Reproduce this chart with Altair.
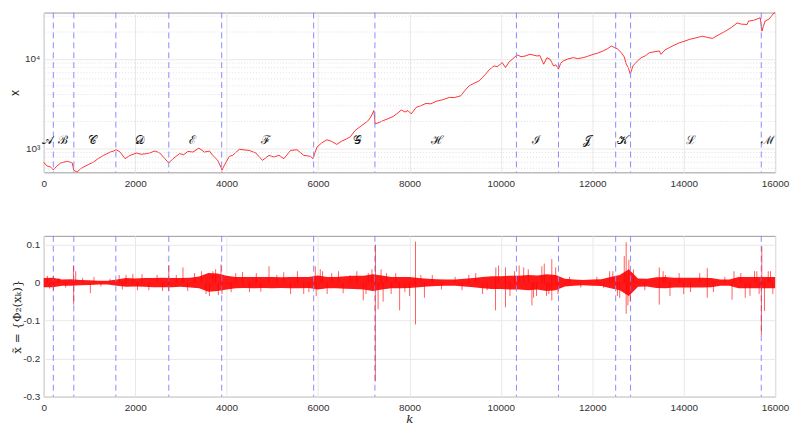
import altair as alt
import pandas as pd

# ---------------- data ----------------
price_k = [0, 65, 150, 210, 282, 369, 515, 586, 623, 658, 732, 803, 875, 977, 1092, 1194, 1309, 1455, 1520, 1585,
           1672, 1780, 1889, 2034, 2128, 2251, 2345, 2432, 2540, 2649, 2736, 2829, 2974, 3061, 3155, 3263, 3393, 3517,
           3626, 3697, 3806, 3880, 3901, 3951, 4060, 4132, 4277, 4494, 4640, 4783, 4929, 5037, 5146, 5254, 5400, 5543,
           5688, 5834, 5890, 5977, 6079, 6194, 6296, 6411, 6513, 6628, 6709, 6811, 6954, 7100, 7165, 7223, 7251, 7338,
           7425, 7534, 7642, 7751, 7822, 7903, 7968, 8040, 8148, 8250, 8365, 8467, 8582, 8728, 8873, 8988, 9125, 9206,
           9307, 9401, 9525, 9596, 9668, 9748, 9850, 9922, 10030, 10102, 10182, 10248, 10356, 10443, 10537, 10638,
           10790, 10855, 10936, 11007, 11079, 11152, 11202, 11261, 11311, 11369, 11463, 11587, 11680, 11804, 11898,
           12021, 12115, 12238, 12332, 12419, 12490, 12549, 12636, 12701, 12744, 12788, 12831, 12890, 12961, 13070,
           13157, 13250, 13352, 13467, 13504, 13591, 13684, 13786, 13902, 14004, 14119, 14264, 14410, 14503, 14627,
           14763, 14915, 15045, 15169, 15263, 15386, 15421, 15523, 15675, 15712, 15740, 15784, 15871, 15964, 16000]
price_v = [700, 640, 620, 575, 630, 687, 717, 700, 687, 570, 545, 590, 620, 660, 705, 770, 836, 910, 930, 966,
           910, 768, 836, 888, 860, 873, 900, 935, 888, 768, 687, 768, 873, 850, 926, 910, 1008, 910,
           935, 836, 736, 610, 570, 647, 815, 836, 975, 950, 888, 736, 836, 800, 836, 768, 950, 966,
           836, 815, 768, 1034, 1150, 1249, 1200, 1108, 1200, 1281, 1350, 1585, 1800, 2046, 2300, 2646, 1881, 1950,
           2046, 2150, 2270, 2500, 2689, 2550, 2646, 2430, 2878, 3000, 3186, 3150, 3356, 3500, 3716, 3700, 3877, 4400,
           5012, 5300, 5690, 6200, 6768, 7600, 8364, 8200, 9097, 8022, 9300, 9897, 11112, 10600, 10797, 11300,
           10800, 10900, 8740, 10300, 9900, 8360, 8600, 7690, 9000, 9500, 10000, 10340, 10100, 10340, 10700,
           11270, 11600, 12290, 13000, 13940, 13370, 13000, 11770, 10500, 8740, 8000, 6770, 8360, 9200, 10340,
           10800, 11770, 12000, 12290, 11270, 12600, 13370, 14200, 15150, 15700, 16500, 17200, 17970, 17500, 16940,
           18600, 20460, 22500, 25260, 24500, 24280, 26550, 27000, 28840, 20460, 23000, 26550, 28000, 32200, 33000]

event_k = [210, 658, 1578, 2736, 3893, 5905, 7245, 10341, 11261, 12512, 12838, 15697]

region_names = ["𝒜", "ℬ", "𝒞", "𝒟", "ℰ", "ℱ", "𝒢", "ℋ", "ℐ", "𝒥", "𝒦", "ℒ", "ℳ"]
region_k = [87, 412, 1060, 2106, 3250, 4857, 6861, 8604, 10776, 11876, 12658, 14155, 15834]
region_y = [1250] * 13

band_k = list(range(0, 16001, 200))
band_hi = [12, 13, 8, 9, 7, 6, 5, 5, 8, 12, 11, 12, 12, 13, 12, 12, 13, 16, 25, 24, 18, 15, 15, 15, 15, 15, 14,
           15, 15, 15, 19, 15, 15, 17, 18, 18, 22, 19, 15, 15, 15, 12, 10, 9, 8, 8, 10, 12, 15, 17, 17, 18, 18,
           20, 19, 22, 20, 10, 8, 7, 8, 9, 15, 20, 35, 11, 10, 14, 15, 13, 13, 13, 13, 12, 8, 8, 15, 15, 15, 15, 15]
band_lo = [-12, -12, -8, -8, -7, -6, -5, -5, -8, -11, -10, -11, -12, -12, -12, -11, -13, -15, -24, -22, -18, -15,
           -14, -15, -14, -15, -14, -15, -15, -14, -18, -15, -15, -16, -17, -18, -22, -18, -15, -15, -14, -12, -10,
           -9, -8, -8, -10, -12, -15, -17, -17, -18, -18, -20, -18, -22, -20, -10, -8, -7, -8, -9, -15, -20, -35,
           -11, -10, -14, -15, -13, -13, -13, -13, -12, -8, -8, -15, -15, -15, -15, -15]

spike_k = [210, 210, 650, 655, 700, 1020, 1100, 1800, 1950, 2050, 2736, 2736, 3046, 3300, 3625, 3700, 3878, 3900,
           4200, 4500, 4928, 5100, 5400, 5688, 5940, 5960, 6100, 6300, 6700, 6990, 7100, 7258, 7255, 7315, 7425,
           7500, 7786, 8003, 8133, 8133, 8328, 8500, 9300, 9700, 9884, 9890, 10101, 10101, 10300, 10500, 10680,
           10716, 10897, 11000, 11115, 11115, 11200, 12380, 12550, 12742, 12742, 12800, 12830, 13466, 13466, 13600,
           14000, 14516, 14516, 15058, 15100, 15347, 15600, 15709, 15700, 15767, 15900,
           80, 130, 330, 480, 850, 1250, 1450, 1650, 1720, 2150, 2300, 2480, 2600, 2900, 3150,
           3450, 3550, 3760, 3820, 4100, 4350, 4650, 4750, 5250, 5550, 5800,
           6050, 6200, 6450, 6550, 6850, 7050, 7180, 7380, 7600,
           7700, 7900, 8250, 8700, 9000, 9150,
           9450, 9600, 9950, 10200, 10400, 10600, 10780, 10950, 11050, 11250,
           11500, 11750, 12100, 12250, 12450, 12600, 12700, 12780, 12900,
           13150, 13550, 13700, 13900, 14150, 14350, 14650, 14900,
           15250, 15450, 15550, 15650, 15850, 15950]
spike_v = [0.017, -0.020, 0.045, -0.058, 0.030, -0.028, 0.015, 0.020, 0.023, -0.020, 0.046, -0.022, 0.040, 0.025,
           -0.035, 0.030, 0.048, -0.030, 0.025, -0.025, 0.043, 0.020, -0.030, -0.030, 0.043, -0.035, 0.030, 0.025,
           0.020, -0.047, 0.025, 0.100, -0.260, -0.070, -0.050, 0.025, -0.073, -0.035, 0.108, -0.110, -0.040, 0.020,
           0.020, -0.020, -0.073, 0.040, 0.040, -0.065, 0.030, 0.040, -0.060, -0.040, 0.043, -0.035, 0.062, -0.047,
           0.040, 0.030, -0.035, 0.106, -0.082, 0.060, -0.050, 0.040, -0.058, 0.020, -0.030, 0.038, -0.040, -0.045,
           0.030, -0.040, 0.030, 0.095, -0.138, -0.075, 0.030,
           0.018, -0.016, 0.012, -0.013, 0.012, -0.010, 0.010, 0.020, -0.018, 0.022, -0.020, 0.020, -0.022, 0.020,
           -0.022,
           0.030, -0.030, 0.035, -0.033, -0.025, 0.028, 0.025, -0.024, 0.027, 0.030, -0.025,
           0.035, -0.030, 0.030, -0.028, 0.030, -0.030, 0.035, 0.035, -0.030,
           0.025, -0.025, 0.020, -0.018, 0.015, -0.020,
           0.025, -0.030, 0.045, -0.035, 0.045, 0.035, -0.035, 0.050, -0.030, -0.030,
           0.015, -0.013, 0.015, -0.014, 0.030, -0.040, 0.070, -0.060, 0.035,
           -0.020, 0.030, -0.035, 0.025, -0.025, 0.025, -0.025, 0.015,
           0.025, -0.035, 0.030, -0.030, 0.030, -0.030]

x_ticks = [0, 2000, 4000, 6000, 8000, 10000, 12000, 14000, 16000]
top_major = [1000, 10000]
top_minor = [600, 700, 800, 900, 2000, 3000, 4000, 5000, 6000, 7000, 8000, 9000, 20000, 30000]
bottom_ticks = [-0.3, -0.2, -0.1, 0, 0.1]

# ---------------- frames ----------------
price = pd.DataFrame({"k": price_k, "v": price_v})
events = pd.DataFrame({"k": event_k})
regions = pd.DataFrame({"k": region_k, "v": region_y, "name": region_names})
minor = pd.DataFrame({"v": top_minor})
band = pd.DataFrame({"k": band_k, "hi": [h / 1000 for h in band_hi], "lo": [l / 1000 for l in band_lo]})
spikes = pd.DataFrame({"k": spike_k, "v": spike_v, "zero": [0.0] * len(spike_k)})

W = 737
FONT = "Liberation Sans"
xscale = alt.Scale(domain=[0, 16000], nice=False, zero=False)
yscale_top = alt.Scale(type="log", domain=[540, 33000], nice=False)
yscale_bot = alt.Scale(domain=[-0.3, 0.123], nice=False, zero=False)

x_axis_top = alt.Axis(values=x_ticks, format="d", title=None, grid=True, gridColor="#e8e8e8",
                      tickSize=0, labelPadding=6, domain=False, labelFlush=False)
x_axis_bot = alt.Axis(values=x_ticks, format="d", title="k", grid=True, gridColor="#e8e8e8",
                      tickSize=0, labelPadding=6, domain=False, labelFlush=False, titleFont="DejaVu Serif",
                      titleFontStyle="italic", titleFontWeight="normal", titleFontSize=12, titlePadding=1)
y_axis_top = alt.Axis(values=top_major, grid=True, gridColor="#e8e8e8", tickSize=0, labelPadding=4,
                      domain=False, title="x", titleFontWeight="normal", titleFontSize=12,
                      titlePadding=3, labelExpr="datum.value == 1000 ? '10³' : '10⁴'")
y_axis_bot = alt.Axis(values=bottom_ticks, grid=True, gridColor="#e8e8e8", tickSize=0, labelPadding=4,
                      domain=False, title="x̃ = {Φ₂(xₖ)}", titleFont="DejaVu Serif",
                      titleFontWeight="normal", titleFontSize=12, titlePadding=-1,
                      labelExpr="datum.value == 0 ? '0' : (datum.value < 0 ? '-' + format(-datum.value, '.1f') : format(datum.value, '.1f'))")

# ---------------- top panel ----------------
top_line = alt.Chart(price).mark_line(color="#ff0000", strokeWidth=0.8).encode(
    x=alt.X("k:Q", scale=xscale, axis=x_axis_top),
    y=alt.Y("v:Q", scale=yscale_top, axis=y_axis_top),
)
top_minor_grid = alt.Chart(minor).mark_rule(color="#d8d8d8", strokeDash=[1, 2], strokeWidth=0.8).encode(
    y=alt.Y("v:Q", scale=yscale_top, axis=y_axis_top)
)
top_lines = alt.Chart(events).mark_rule(color="#8a8aff", strokeDash=[6, 4], strokeWidth=1).encode(
    x=alt.X("k:Q", scale=xscale, axis=x_axis_top)
)
top_text = alt.Chart(regions).mark_text(fontSize=12, font="DejaVu Serif", color="#111111").encode(
    x=alt.X("k:Q", scale=xscale, axis=x_axis_top),
    y=alt.Y("v:Q", scale=yscale_top, axis=y_axis_top),
    text="name:N",
)
top = alt.layer(top_line, top_minor_grid, top_lines, top_text).properties(width=W, height=161)

# ---------------- bottom panel ----------------
bot_band = alt.Chart(band).mark_area(color="#ff0000", opacity=0.9, interpolate="linear").encode(
    x=alt.X("k:Q", scale=xscale, axis=x_axis_bot),
    y=alt.Y("hi:Q", scale=yscale_bot, axis=y_axis_bot),
    y2="lo:Q",
)
bot_lines = alt.Chart(events).mark_rule(color="#8a8aff", strokeDash=[6, 4], strokeWidth=1).encode(
    x=alt.X("k:Q", scale=xscale, axis=x_axis_bot)
)
bot_spikes = alt.Chart(spikes).mark_rule(color="#ff0000", strokeWidth=0.9, opacity=0.7).encode(
    x=alt.X("k:Q", scale=xscale, axis=x_axis_bot),
    y=alt.Y("zero:Q", scale=yscale_bot, axis=y_axis_bot),
    y2="v:Q",
)
bottom = alt.layer(bot_band, bot_lines, bot_spikes).properties(width=W, height=162)

chart = alt.vconcat(top, bottom, spacing=46).properties(
    padding={"left": 0, "top": 0, "right": 0, "bottom": 0}
).configure_view(stroke="#9a9a9a", strokeWidth=1).configure_axis(
    labelFont=FONT, labelFontSize=10, labelColor="#333333", titleColor="#222222", titleFont=FONT
)

chart.save("out.html", embed_options={"renderer": "svg", "actions": False})
